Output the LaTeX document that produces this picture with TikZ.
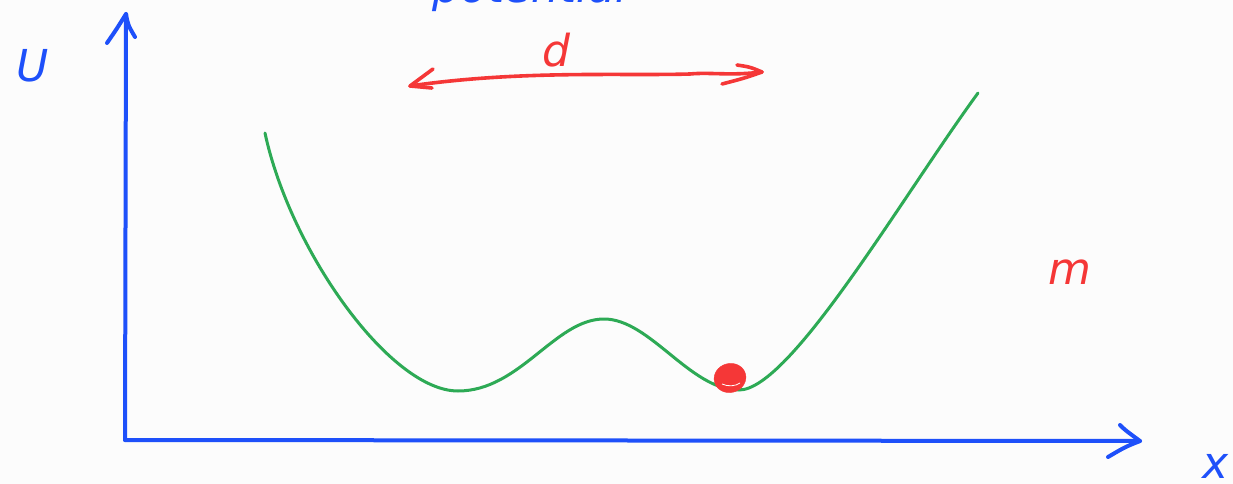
\documentclass[tikz,border=0pt]{standalone}
\usepackage{fontspec}
\setmainfont{DejaVu Sans}
\usetikzlibrary{shapes.geometric}
\definecolor{penblue}{RGB}{30,80,250}
\definecolor{penred}{RGB}{245,55,55}
\definecolor{pengreen}{RGB}{45,170,85}
\begin{document}
\begin{tikzpicture}[x=1pt,y=-1pt,
  bluepen/.style={draw=penblue,line width=4pt,line cap=round,line join=round},
  redpen/.style={draw=penred,line width=3.6pt,line cap=round,line join=round},
  greenpen/.style={draw=pengreen,line width=3pt,line cap=round},
  bluelabel/.style={text=penblue,font=\fontsize{44}{44}\selectfont\itshape,inner sep=0pt},
  redlabel/.style={text=penred,font=\fontsize{44}{44}\selectfont\itshape,inner sep=0pt}]
\fill[white!99!black] (0,0) rectangle (1233,484);
\useasboundingbox (0,0) rectangle (1233,484);
\clip (0,0) rectangle (1233,484);
% axes
\coordinate (O) at (125,440);
\coordinate (ytip) at (126,14);
\coordinate (xtip) at (1140,441);
\draw[bluepen] (O) -- (ytip);
\draw[bluepen] (107,43) .. controls (116,30) .. (ytip) .. controls (128,25) .. (135,37);
\draw[bluepen] (O) -- (xtip);
\draw[bluepen] (1120,425) .. controls (1125,430) .. (xtip) .. controls (1125,447) .. (1108,457);
% labels
\node[bluelabel] (U) at (33,66) {U};
\node[bluelabel,anchor=south] (pot) at (530,12) {potential};
\node[bluelabel] (xl) at (1216,466) {x};
\node[redlabel] (m) at (1070,272) {m};
\node[redlabel] (d) at (556,50) {d};
% distance arrow
\coordinate (dl) at (410,86);
\coordinate (dr) at (762,72);
\draw[redpen] (dl) .. controls (520,70) and (620,76) .. (690,74) .. controls (710,72) and (730,76) .. (dr);
\draw[redpen] (433,69) -- (dl) -- (432,88);
\draw[redpen] (737,65) .. controls (750,67) .. (dr) .. controls (745,78) .. (722,84);
% potential curve
\coordinate (c0) at (265,133);
\coordinate (c1) at (458,391);
\coordinate (c2) at (604,319);
\coordinate (c3) at (739,390);
\coordinate (c4) at (978,93);
\draw[greenpen] (c0) .. controls (290,250) and (390,391) .. (c1)
  .. controls (520,391) and (555,319) .. (c2)
  .. controls (650,319) and (690,390) .. (c3)
  .. controls (790,390) and (900,200) .. (c4);
% ball
\node[fill=penred,draw=penred,ellipse,minimum width=32pt,minimum height=29pt,inner sep=0pt,rotate=15] (ball) at (730,378) {};
\draw[white,line width=0.8pt] (722,384) .. controls (728,387) and (736,386) .. (740,383);
\end{tikzpicture}
\end{document}
